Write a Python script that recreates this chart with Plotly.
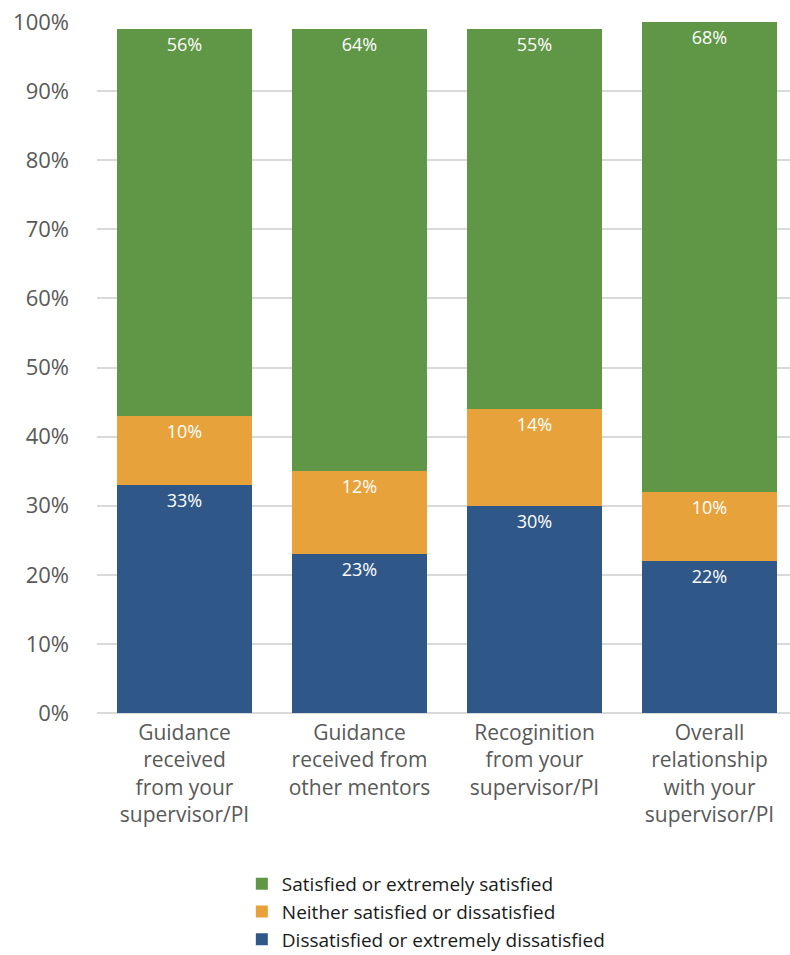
import plotly.graph_objects as go

categories = [
    "Guidance<br>received<br>from your<br>supervisor/PI",
    "Guidance<br>received from<br>other mentors",
    "Recoginition<br>from your<br>supervisor/PI",
    "Overall<br>relationship<br>with your<br>supervisor/PI",
]
dissatisfied = [33, 23, 30, 22]
neither = [10, 12, 14, 10]
satisfied = [56, 64, 55, 68]

series = [
    ("Dissatisfied or extremely dissatisfied", dissatisfied, "#2F5889"),
    ("Neither satisfied or dissatisfied", neither, "#E8A23B"),
    ("Satisfied or extremely satisfied", satisfied, "#5F9746"),
]

FONT = "Open Sans"

fig = go.Figure()
for name, vals, color in series:
    fig.add_trace(go.Bar(
        name=name,
        x=list(range(len(categories))),
        y=vals,
        marker=dict(color=color, line=dict(width=0)),
        text=[f"{v}%" for v in vals],
        textposition="inside",
        insidetextanchor="end",
        textangle=0,
        textfont=dict(family=FONT, size=18, color="white"),
        width=0.77,
    ))

fig.update_layout(
    barmode="stack",
    width=790, height=955,
    margin=dict(l=97, r=0, t=22, b=242, autoexpand=False),
    paper_bgcolor="white", plot_bgcolor="white",
    font=dict(family=FONT, color="#595959"),
    showlegend=True,
    legend=dict(
        orientation="v", traceorder="reversed",
        x=0.209, xanchor="left", y=-0.22, yanchor="top",
        font=dict(family=FONT, size=19, color="#1a1a1a"),
        tracegroupgap=0, itemclick=False,
    ),
)
fig.update_xaxes(
    tickmode="array", tickvals=list(range(len(categories))), ticktext=categories,
    range=[-0.5, 3.46], showgrid=False, showline=False, zeroline=False,
    tickfont=dict(family=FONT, size=21, color="#595959"), ticks="",
    ticklabelstandoff=5, automargin=False,
)
fig.update_yaxes(
    range=[0, 100], tickvals=list(range(0, 101, 10)),
    ticktext=[f"{v}%" for v in range(0, 101, 10)],
    showgrid=True, gridcolor="#D9D9D9", gridwidth=2,
    zeroline=True, zerolinecolor="#D9D9D9", zerolinewidth=2,
    showline=False, ticks="",
    tickfont=dict(family=FONT, size=22, color="#595959"),
    ticklabelstandoff=27, automargin=False,
)

fig.write_html("out.html")
